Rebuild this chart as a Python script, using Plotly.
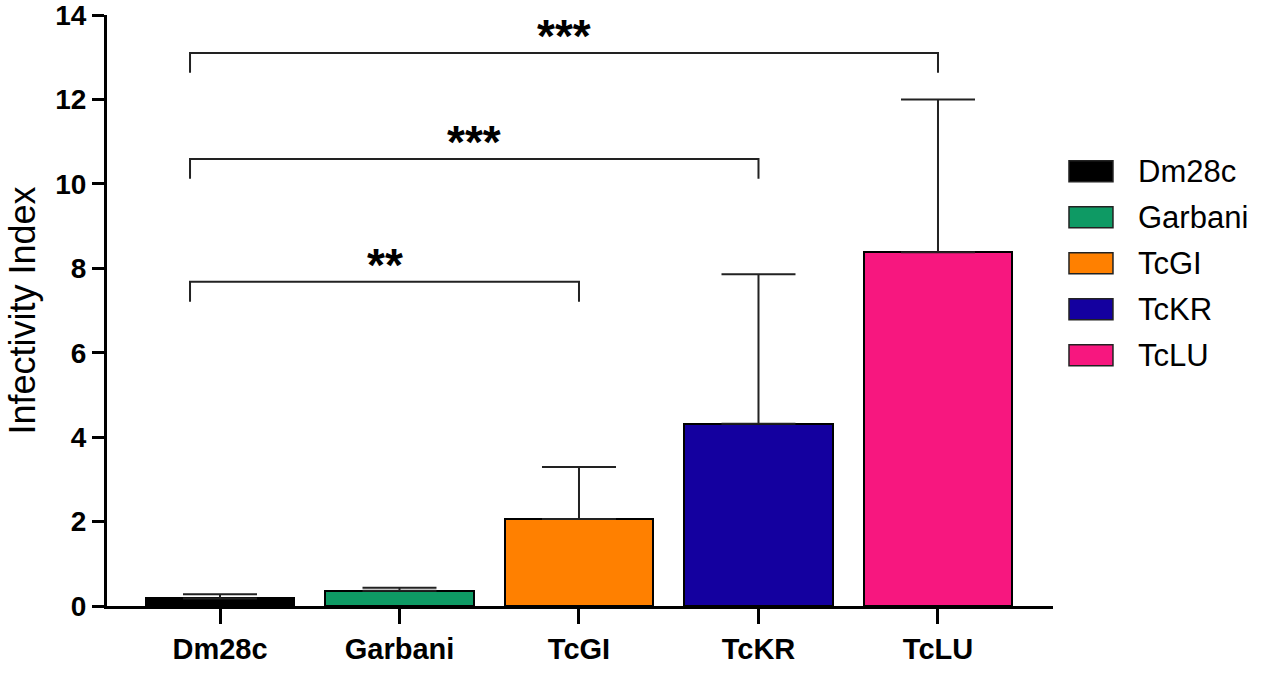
import plotly.graph_objects as go

# Infectivity index per strain (mean and upper SD)
strains = ["Dm28c", "Garbani", "TcGI", "TcKR", "TcLU"]
mean_index = [0.18, 0.36, 2.06, 4.32, 8.38]
sd_index = [0.10, 0.07, 1.23, 3.54, 3.62]
bar_colors = ["#000000", "#0e9a64", "#ff8000", "#14009f", "#f7177f"]

# Pairwise comparisons against Dm28c: (first, second, label)
comparisons = [("Dm28c", "TcGI", "**"), ("Dm28c", "TcKR", "***"), ("Dm28c", "TcLU", "***")]
bracket_levels = [7.68, 10.59, 13.1]

y_ticks = [0, 2, 4, 6, 8, 10, 12, 14]

FONT = "Liberation Sans, Arial, sans-serif"

fig = go.Figure()
fig.add_trace(go.Bar(
    x=list(range(len(strains))),
    y=mean_index,
    width=0.825,
    marker=dict(color=bar_colors, line=dict(color="#000000", width=2)),
    error_y=dict(type="data", array=sd_index, arrayminus=[0] * len(sd_index),
                 symmetric=False, color="#222222", thickness=2, width=37),
    showlegend=False,
))

# Significance brackets
leg = 0.47
for (a, b, label), level in zip(comparisons, bracket_levels):
    xa = strains.index(a) - 0.167
    xb = strains.index(b)
    fig.add_shape(type="path", xref="x", yref="y",
                  path=f"M {xa},{level - leg} L {xa},{level} L {xb},{level} L {xb},{level - leg}",
                  line=dict(color="#222222", width=2))
    fig.add_annotation(x=(xa + xb) / 2, y=level, xref="x", yref="y",
                       text=label, showarrow=False, yanchor="middle", yshift=17,
                       font=dict(family=FONT, size=46, color="#000000", weight="bold"))

# Legend drawn as swatches with labels
for i, (name, col) in enumerate(zip(strains, bar_colors)):
    yc = 0.7355 - i * 0.07777
    fig.add_shape(type="rect", xref="paper", yref="paper",
                  x0=1.0169, x1=1.0634, y0=yc - 0.0178, y1=yc + 0.0178,
                  fillcolor=col, line=dict(color="#222222", width=1.5))
    fig.add_annotation(x=1.0878, y=yc, xref="paper", yref="paper", text=name,
                       showarrow=False, xanchor="left", yanchor="middle",
                       font=dict(family=FONT, size=31, color="#000000"))

fig.update_layout(
    width=1261, height=673,
    margin=dict(l=107, r=208, t=15, b=67),
    plot_bgcolor="white", paper_bgcolor="white",
    font=dict(family=FONT, color="#000000"),
    bargap=0,
)
fig.update_xaxes(
    range=[-0.6295, 4.6407],
    tickvals=list(range(len(strains))), ticktext=strains,
    showline=True, linecolor="#000000", linewidth=3,
    ticks="outside", ticklen=15, tickwidth=3, tickcolor="#000000",
    tickfont=dict(family=FONT, size=29, weight="bold"),
    showgrid=False, zeroline=False, automargin=False,
)
fig.update_yaxes(
    range=[0, 14.0005], tickvals=y_ticks,
    showline=True, linecolor="#000000", linewidth=3,
    ticks="outside", ticklen=12, tickwidth=3, tickcolor="#000000",
    tickfont=dict(family=FONT, size=28, weight="bold"),
    ticklabeloverflow="allow",
    title=dict(text="Infectivity Index", font=dict(family=FONT, size=36), standoff=9),
    showgrid=False, zeroline=False, automargin=False,
)

fig.write_html("out.html")
